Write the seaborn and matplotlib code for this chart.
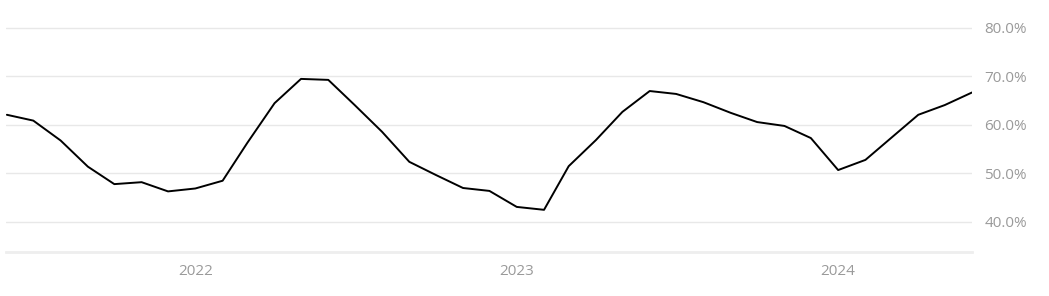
import numpy as np
import pandas as pd
import matplotlib
matplotlib.use("Agg")
import matplotlib.pyplot as plt
import matplotlib.dates as mdates
from matplotlib.ticker import FuncFormatter
import seaborn as sns

# Monthly values (%), Jun 2021 .. Jun 2024
months = pd.date_range("2021-06-01", "2024-06-01", freq="MS")
values = [62.1, 60.9, 56.8, 51.4, 47.8, 48.2, 46.3, 46.9, 48.5, 56.3,
          64.5, 69.5, 69.3, 64.1, 58.6, 52.4, 49.7, 47.0, 46.4, 43.1,
          42.5, 51.5, 56.9, 62.7, 67.0, 66.4, 64.7, 62.5, 60.6, 59.8,
          57.3, 50.7, 52.8, 57.3, 62.1, 64.1, 66.7]
y_ticks = [40, 50, 60, 70, 80]
x_tick_years = ["2022-01-01", "2023-01-01", "2024-01-01"]

df = pd.DataFrame({"date": months, "value": values})

sns.set_theme(style="white")
plt.rcParams["font.family"] = ["Open Sans", "DejaVu Sans"]

W, H = 1049, 296
fig = plt.figure(figsize=(W / 100, H / 100), dpi=100)
ax_left, ax_right = 6, 972
ax_bottom = 252
ymin, ymax = 33.8, 82.0
px_per_pct = 4.85
ax_top = 28 - (ymax - 80) * px_per_pct
ax = fig.add_axes([ax_left / W, 1 - ax_bottom / H, (ax_right - ax_left) / W,
                   (ax_bottom - ax_top) / H])

sns.lineplot(data=df, x="date", y="value", ax=ax, color="black",
             linewidth=1.4, zorder=3)

ax.set_xlim(pd.Timestamp("2021-05-31"), pd.Timestamp("2024-06-01"))
ax.set_ylim(ymin, ymax)
ax.set_yticks(y_ticks)
ax.yaxis.set_major_formatter(FuncFormatter(lambda v, p: f"{v:.1f}%"))
ax.yaxis.tick_right()
ax.set_xticks([pd.Timestamp(d) for d in x_tick_years])
ax.xaxis.set_major_formatter(mdates.DateFormatter("%Y"))

ax.grid(axis="y", color="#e8e8e8", linewidth=1.0)
ax.grid(axis="x", visible=False)
for s in ["top", "left", "right"]:
    ax.spines[s].set_visible(False)
ax.spines["bottom"].set_color("#eeeeee")
ax.spines["bottom"].set_linewidth(2.0)

ax.tick_params(axis="y", length=0, pad=9.0, labelsize=11, labelcolor="#9a9a9a")
ax.tick_params(axis="x", length=0, pad=8.5, labelsize=11, labelcolor="#9a9a9a")
ax.set_xlabel("")
ax.set_ylabel("")

fig.savefig("out.png", dpi=100, facecolor="white")
